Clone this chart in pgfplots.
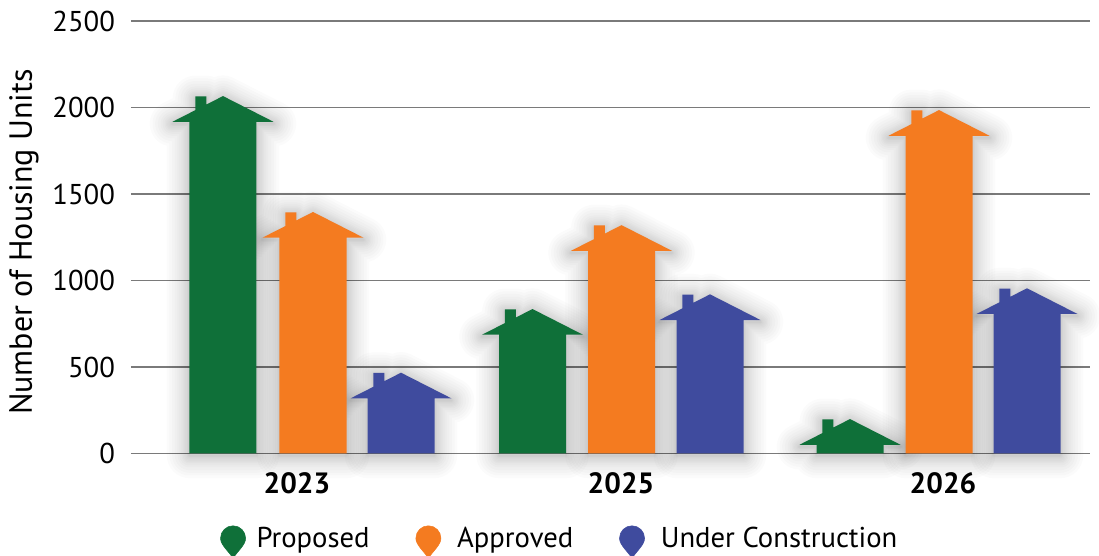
\documentclass[border=0pt]{standalone}
\usepackage{pgfplots}
\usepackage{pgfplotstable}
\usepackage{fontspec}
\pgfplotsset{compat=1.18}
\setmainfont{PT Sans}
\definecolor{grn}{HTML}{0F7039}
\definecolor{org}{HTML}{F47B20}
\definecolor{blu}{HTML}{3F4B9E}
\definecolor{gridc}{HTML}{7A7A7A}

% peak of each house, in housing units, at its horizontal position
\pgfplotstableread{
x v
223 2066
532.5 835
850 199
}\proposed
\pgfplotstableread{
x v
313 1396
621.5 1320
939 1985
}\approved
\pgfplotstableread{
x v
401 467
710 920
1027 955
}\underconstruction

% house outline, hung from its peak and reaching down to the baseline
\newcommand{\housepath}{%
  \pgfmathsetmacro{\hpt}{\hval*0.12975}%
  \pgfpathmoveto{\pgfpoint{-37.875pt}{-19.275pt}}%
  \pgfpathlineto{\pgfpoint{-20.775pt}{-10.575pt}}%
  \pgfpathlineto{\pgfpoint{-20.775pt}{-0.2pt}}%
  \pgfpathlineto{\pgfpoint{-12.525pt}{-0.2pt}}%
  \pgfpathlineto{\pgfpoint{-12.525pt}{-6.375pt}}%
  \pgfpathlineto{\pgfpoint{0pt}{0pt}}%
  \pgfpathlineto{\pgfpoint{37.875pt}{-19.275pt}}%
  \pgfpathlineto{\pgfpoint{25.125pt}{-19.275pt}}%
  \pgfpathlineto{\pgfpoint{25.125pt}{-\hpt pt}}%
  \pgfpathlineto{\pgfpoint{-25.125pt}{-\hpt pt}}%
  \pgfpathlineto{\pgfpoint{-25.125pt}{-19.275pt}}%
  \pgfpathclose
}
\pgfdeclareplotmark{house}{\housepath\pgfusepath{fill}}
% soft halo: widening translucent strokes around the same outline
\pgfdeclareplotmark{househalo}{%
  \pgftransformshift{\pgfpoint{0pt}{-1.5pt}}%
  \pgfsetroundjoin
  \pgfsetstrokecolor{black}%
  \pgfsetstrokeopacity{0.014}%
  \foreach \w in {1,2,3,4,6,8,10,12,15,18,22,26,30,34}{%
    \pgfsetlinewidth{\w pt}\housepath\pgfusepath{stroke}}%
}

\pgfplotsset{
  housing/.style={
    forget plot, only marks, scatter, mark=house,
    scatter/@pre marker code/.code={\pgfsetfillcolor{#1}},
    scatter/@post marker code/.code={},
    visualization depends on={\thisrow{v} \as \hval},
  },
  halo/.style={
    forget plot, only marks, scatter, mark=househalo,
    scatter/@pre marker code/.code={},
    scatter/@post marker code/.code={},
    visualization depends on={\thisrow{v} \as \hval},
  },
  pin/.style={
    legend image code/.code={
      \fill[#1] (0,-15pt) .. controls (-3pt,-10pt) and (-9.4pt,-5pt) .. (-9.4pt,0pt)
        arc (180:0:9.4pt) .. controls (9.4pt,-5pt) and (3pt,-10pt) .. (0,-15pt);
    }
  },
}

\begin{document}
\begin{tikzpicture}
\path[use as bounding box] (-98.25pt,-76.875pt) rectangle (726pt,340.125pt);
\begin{axis}[
  scale only axis, width=719.25pt, height=324.375pt,
  at={(0pt,0pt)}, anchor=south west,
  xmin=131, xmax=1090, ymin=0, ymax=2500,
  clip=false,
  axis line style={draw=none},
  major tick length=0pt,
  ymajorgrids,
  grid style={gridc, line width=1pt},
  ytick={0,500,1000,1500,2000,2500},
  xtick={297,621,943},
  xticklabels={2023,2025,2026},
  /pgf/number format/assume math mode=true,
  /pgf/number format/set thousands separator={},
  yticklabel style={font=\fontsize{21.5pt}{24pt}\selectfont, xshift=-8.5pt},
  xticklabel style={font=\fontsize{22pt}{24pt}\selectfont\bfseries, yshift=-10.5pt},
  ylabel={Number of Housing Units},
  ylabel style={font=\fontsize{24pt}{26pt}\selectfont, at={(axis description cs:-0.1116,0.489)}, anchor=center},
  legend style={at={(0.4475,-0.2035)}, anchor=center, draw=none, fill=none,
    font=\fontsize{21.5pt}{24pt}\selectfont, legend columns=3,
    /tikz/every even column/.style={column sep=32.5pt}},
]
\addplot[halo] table[x=x,y=v] {\proposed};
\addplot[halo] table[x=x,y=v] {\approved};
\addplot[halo] table[x=x,y=v] {\underconstruction};
\addplot[housing=grn] table[x=x,y=v] {\proposed};
\addplot[housing=org] table[x=x,y=v] {\approved};
\addplot[housing=blu] table[x=x,y=v] {\underconstruction};
\addlegendimage{pin=grn}
\addlegendentry{\hspace*{6pt}Proposed}
\addlegendimage{pin=org}
\addlegendentry{\hspace*{10pt}Approved}
\addlegendimage{pin=blu}
\addlegendentry{\hspace*{10pt}Under Construction}
\end{axis}
\end{tikzpicture}
\end{document}
